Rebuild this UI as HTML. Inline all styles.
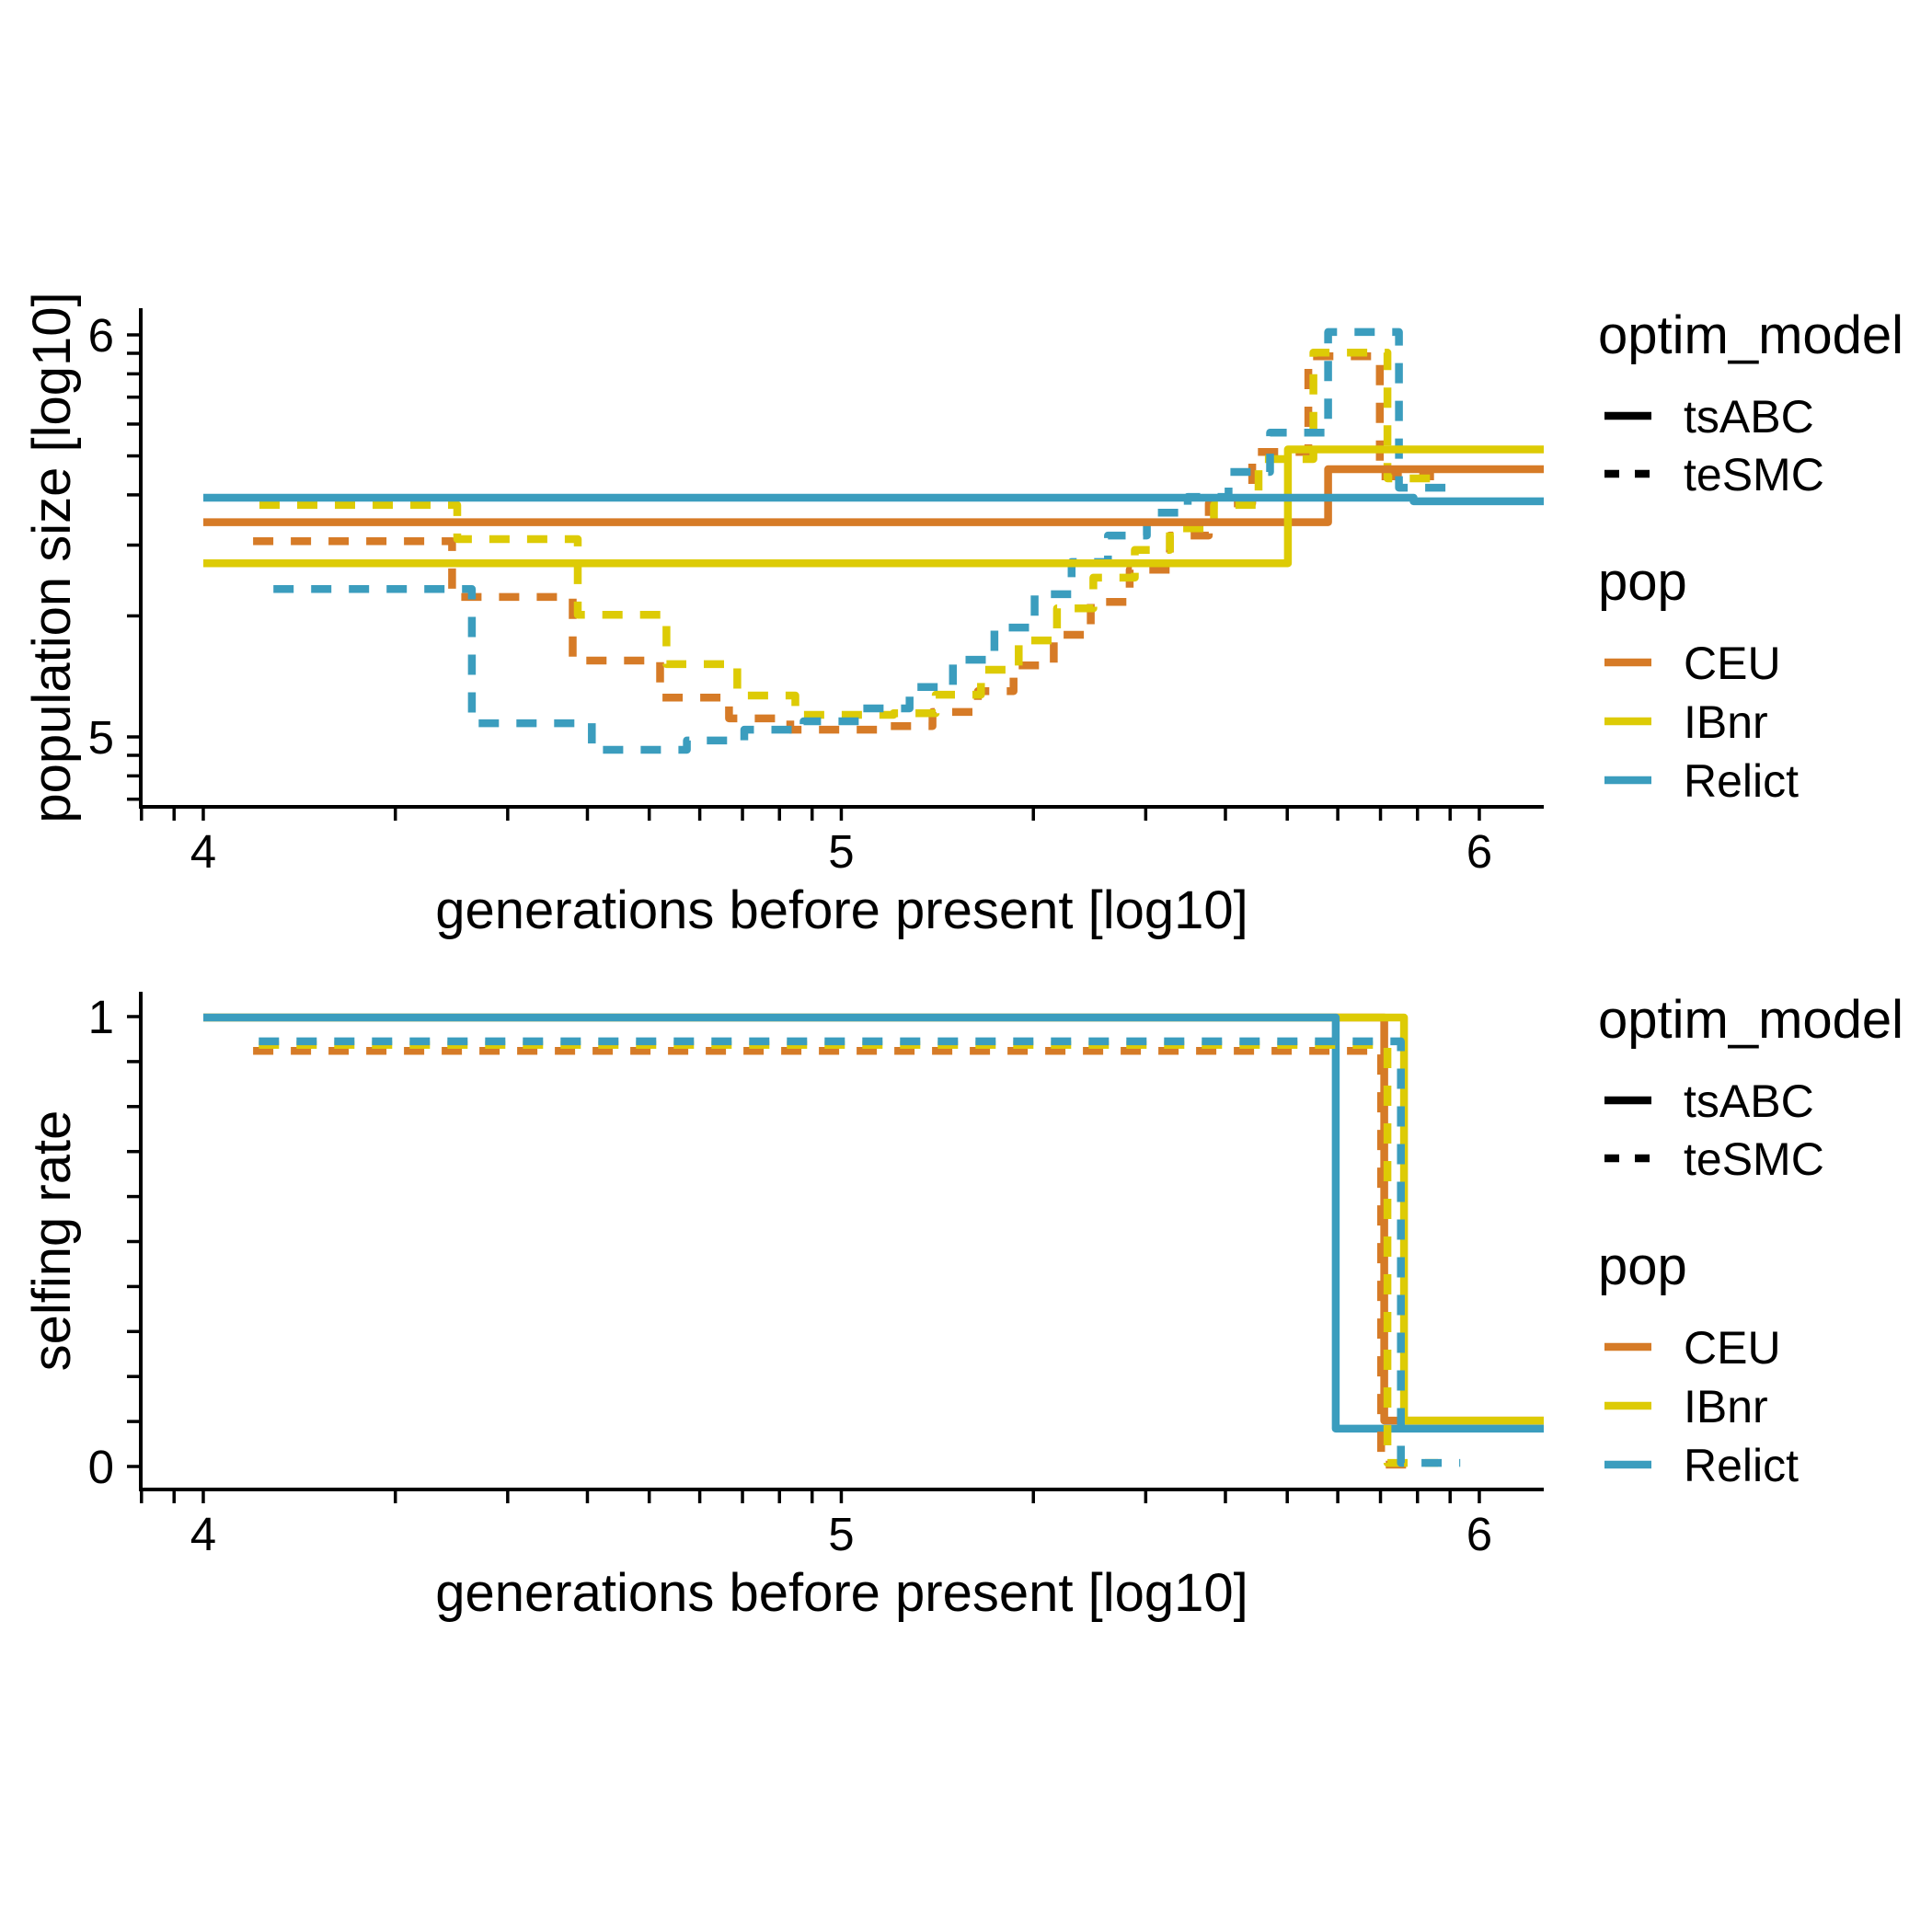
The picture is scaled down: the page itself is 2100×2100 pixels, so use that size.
<!DOCTYPE html>
<html><head><meta charset="utf-8"><style>
html,body{margin:0;padding:0;background:#fff;}
svg{display:block;font-family:"Liberation Sans",Arial,sans-serif;}
</style></head><body>
<svg id="chart" width="2100" height="2100" viewBox="0 0 2100 2100" xmlns="http://www.w3.org/2000/svg">
<rect width="2100" height="2100" fill="#fff"/>
<g id="top-panel"></g>
<g id="bottom-panel"></g>
<g id="legends"></g>
</svg>
<script>
// ---- data (all times in log10 generations) ----
const popNames = ["CEU", "IBnr", "Relict"];
const popColors = ["#D67B27", "#DDCB05", "#3B9DBE"];
const xMajorTicks = [4, 5, 6];
const xTickLabels = ["4", "5", "6"];
const yTopTicks = [5, 6];
const yTopTickLabels = ["5", "6"];
const yBottomTicks = [0, 1];
const yBottomTickLabels = ["0", "1"];

// tsABC Ne (solid)
const nTsCEU_t = [4.0, 5.763];
const nTsCEU_v = [5.534, 5.666];
const nTsIBnr_t = [4.0, 5.700];
const nTsIBnr_v = [5.432, 5.715];
const nTsRelict_t = [4.0, 5.897];
const nTsRelict_v = [5.595, 5.586];
const nTsEnd = 6.101;

// teSMC Ne (dashed)
const nSmCEU_t = [4.078, 4.39, 4.579, 4.716, 4.824, 4.920, 5.072, 5.143, 5.214, 5.270, 5.333, 5.391, 5.452, 5.515, 5.576, 5.644, 5.732, 5.844];
const nSmCEU_v = [5.487, 5.348, 5.190, 5.098, 5.046, 5.018, 5.027, 5.062, 5.114, 5.178, 5.254, 5.336, 5.416, 5.501, 5.581, 5.709, 5.947, 5.648];
const nSmCEU_end = 5.929;
const nSmIBnr_t = [4.088, 4.398, 4.587, 4.726, 4.837, 4.928, 5.082, 5.148, 5.219, 5.278, 5.338, 5.395, 5.460, 5.515, 5.584, 5.654, 5.740, 5.856];
const nSmIBnr_v = [5.577, 5.492, 5.304, 5.181, 5.103, 5.055, 5.059, 5.105, 5.167, 5.240, 5.320, 5.396, 5.465, 5.519, 5.577, 5.691, 5.956, 5.643];
const nSmIBnr_end = 5.929;
const nSmRelict_t = [4.11, 4.421, 4.609, 4.758, 4.848, 4.941, 5.032, 5.107, 5.175, 5.240, 5.303, 5.361, 5.418, 5.479, 5.543, 5.607, 5.672, 5.763, 5.874];
const nSmRelict_v = [5.368, 5.034, 4.968, 4.991, 5.018, 5.039, 5.071, 5.124, 5.192, 5.272, 5.355, 5.435, 5.501, 5.558, 5.597, 5.659, 5.757, 6.007, 5.620];
const nSmRelict_end = 5.957;

// selfing rate
const sTsCEU_t = [4.0, 5.851];  const sTsCEU_v = [0.998, 0.102];
const sTsIBnr_t = [4.0, 5.882]; const sTsIBnr_v = [0.998, 0.102];
const sTsRelict_t = [4.0, 5.775]; const sTsRelict_v = [0.998, 0.084];
const sSmCEU_t = [4.078, 5.846]; const sSmCEU_v = [0.924, 0.004]; const sSmCEU_end = 5.91;
const sSmIBnr_t = [4.087, 5.856]; const sSmIBnr_v = [0.937, 0.008]; const sSmIBnr_end = 5.935;
const sSmRelict_t = [4.087, 5.877]; const sSmRelict_v = [0.945, 0.008]; const sSmRelict_end = 5.97;

// ---- layout ----
const NS = "http://www.w3.org/2000/svg";
const X0 = 153, X1 = 1678;
const xDom = [3.902, 6.101];
const xs = l => X0 + (l - xDom[0]) / (xDom[1] - xDom[0]) * (X1 - X0);
const topY = l => 801 - (l - 5) * 437;
const TOPY0 = 335, TOPY1 = 877;
const botY = v => 1594 - v * 489;
const BOTY0 = 1078, BOTY1 = 1619;
const LW = 8.5;
const DASH = "22 19";

function el(tag, attrs, parent, text) {
  const e = document.createElementNS(NS, tag);
  for (const k in attrs) e.setAttribute(k, attrs[k]);
  if (text !== undefined) e.textContent = text;
  parent.appendChild(e);
  return e;
}
function stepPath(ts, vs, end, yfn) {
  let d = "";
  for (let i = 0; i < ts.length; i++) {
    const x = xs(ts[i]), y = yfn(vs[i]);
    d += (i === 0 ? "M" : "L") + x.toFixed(1) + "," + y.toFixed(1);
    const xe = xs(i + 1 < ts.length ? ts[i + 1] : end);
    d += "L" + xe.toFixed(1) + "," + y.toFixed(1);
  }
  return d;
}

function drawAxes(g, yfn, Y0, Y1, yTicks, yLabels, yMinor, yTitle, namePrefix) {
  const xa = el("g", {}, g);
  
  
  el("line", {x1: X0, x2: X1, y1: Y1, y2: Y1, stroke: "#000", "stroke-width": 4}, xa);
  for (let dec = 3; dec <= 6; dec++) for (let m = 1; m <= 9; m++) {
    const l = dec + Math.log10(m);
    if (l < xDom[0] - 1e-6 || l > xDom[1]) continue;
    el("line", {x1: xs(l), x2: xs(l), y1: Y1, y2: Y1 + 15, stroke: "#000", "stroke-width": 3.5}, xa);
  }
  xMajorTicks.forEach((t, i) => {
    const tx = el("text", {x: xs(t), y: Y1 + 66, "font-size": 51, "text-anchor": "middle", fill: "#000"}, xa, xTickLabels[i]);
    
    
  });
  const xt = el("text", {x: 915, y: Y1 + 132, "font-size": 58, "text-anchor": "middle", fill: "#000"}, xa, "generations before present [log10]");
  
  
  const ya = el("g", {}, g);
  
  
  el("line", {x1: X0, x2: X0, y1: Y0, y2: Y1 + 2, stroke: "#000", "stroke-width": 4}, ya);
  yMinor.forEach(v => el("line", {x1: X0 - 15, x2: X0, y1: yfn(v), y2: yfn(v), stroke: "#000", "stroke-width": 3.5}, ya));
  yTicks.forEach((t, i) => {
    const ty = el("text", {x: 124, y: yfn(t) + 18, "font-size": 51, "text-anchor": "end", fill: "#000"}, ya, yLabels[i]);
    
    
  });
  const cy = (Y0 + Y1) / 2;
  const yt = el("text", {x: 76, y: cy, "font-size": 58, "text-anchor": "middle", fill: "#000", transform: "rotate(-90 76 " + cy + ")"}, ya, yTitle);
  
  
}

// ---- top panel ----
const gTop = document.getElementById("top-panel");
const topMinor = [];
for (let dec = 4; dec <= 6; dec++) for (let m = 1; m <= 9; m++) {
  const l = dec + Math.log10(m);
  if (l >= 4.826 && l <= 6.066) topMinor.push(l);
}
drawAxes(gTop, topY, TOPY0, TOPY1, yTopTicks, yTopTickLabels, topMinor, "population size [log10]", "top");

const topSolid = [[nTsCEU_t, nTsCEU_v], [nTsIBnr_t, nTsIBnr_v], [nTsRelict_t, nTsRelict_v]];
const topDash = [[nSmCEU_t, nSmCEU_v, nSmCEU_end], [nSmIBnr_t, nSmIBnr_v, nSmIBnr_end], [nSmRelict_t, nSmRelict_v, nSmRelict_end]];
topDash.forEach((s, i) => {
  const p = el("path", {d: stepPath(s[0], s[1], s[2], topY), fill: "none", stroke: popColors[i], "stroke-width": LW, "stroke-dasharray": DASH, "stroke-linejoin": "round"}, gTop);
  
  
});
topSolid.forEach((s, i) => {
  const p = el("path", {d: stepPath(s[0], s[1], nTsEnd, topY), fill: "none", stroke: popColors[i], "stroke-width": LW, "stroke-linejoin": "round"}, gTop);
  
  
});

// ---- bottom panel ----
const gBot = document.getElementById("bottom-panel");
const botMinor = [];
for (let k = 0; k <= 10; k++) botMinor.push(k / 10);
drawAxes(gBot, botY, BOTY0, BOTY1, yBottomTicks, yBottomTickLabels, botMinor, "selfing rate", "bottom");

const botSolid = [[sTsCEU_t, sTsCEU_v], [sTsIBnr_t, sTsIBnr_v], [sTsRelict_t, sTsRelict_v]];
const botDash = [[sSmCEU_t, sSmCEU_v, sSmCEU_end], [sSmIBnr_t, sSmIBnr_v, sSmIBnr_end], [sSmRelict_t, sSmRelict_v, sSmRelict_end]];
botSolid.forEach((s, i) => {
  const p = el("path", {d: stepPath(s[0], s[1], nTsEnd, botY), fill: "none", stroke: popColors[i], "stroke-width": LW, "stroke-linejoin": "round"}, gBot);
  
  
});
botDash.forEach((s, i) => {
  const p = el("path", {d: stepPath(s[0], s[1], s[2], botY), fill: "none", stroke: popColors[i], "stroke-width": LW, "stroke-dasharray": DASH, "stroke-linejoin": "round"}, gBot);
  
  
});

// ---- legends ----
const gLeg = document.getElementById("legends");
[0, 744].forEach((off, k) => {
  const lg = el("g", {}, gLeg);
  
  
  el("text", {x: 1737, y: 384 + off, "font-size": 58, fill: "#000"}, lg, "optim_model");
  const models = ["tsABC", "teSMC"];
  models.forEach((m, i) => {
    const y = 452 + i * 63 + off;
    const ln = el("line", {x1: 1744, x2: 1795, y1: y, y2: y, stroke: "#000", "stroke-width": LW, "stroke-dasharray": i === 1 ? "16 17" : "none"}, lg);
    
    
    const t = el("text", {x: 1830, y: y + 18, "font-size": 50, fill: "#000"}, lg, m);
    
    
  });
  el("text", {x: 1737, y: 652 + off, "font-size": 58, fill: "#000"}, lg, "pop");
  popNames.forEach((p, i) => {
    const y = 720 + i * 64 + off;
    const ln = el("line", {x1: 1744, x2: 1795, y1: y, y2: y, stroke: popColors[i], "stroke-width": LW}, lg);
    
    
    const t = el("text", {x: 1830, y: y + 18, "font-size": 50, fill: "#000"}, lg, p);
    
    
  });
});
</script>
</body></html>
